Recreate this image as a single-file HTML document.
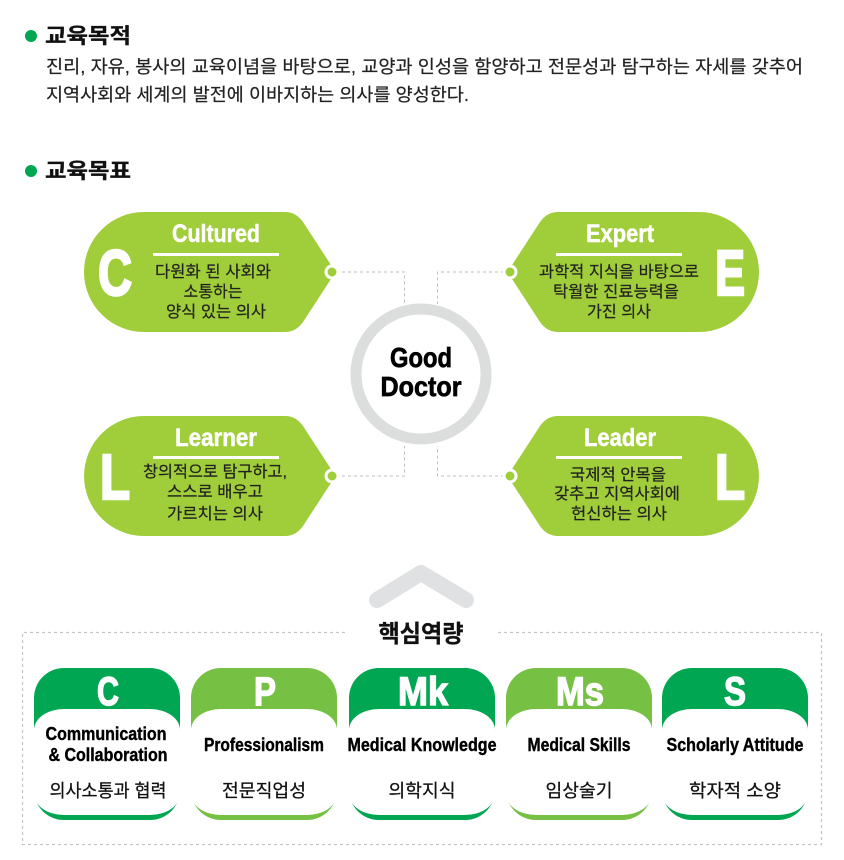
<!DOCTYPE html>
<html lang="ko"><head><meta charset="utf-8">
<style>
html,body{margin:0;padding:0;background:#fff;width:844px;height:860px;overflow:hidden}
svg{display:block}
text{font-family:"Liberation Sans","Noto Sans CJK KR",sans-serif;}
.h{font-weight:bold;font-size:21px;fill:#111;stroke:#111;stroke-width:.3px}
.b{font-size:18px;fill:#222;stroke:#222;stroke-width:.2px}
.k{font-size:16px;fill:#222;stroke:#222;stroke-width:.2px;text-anchor:middle}
.t{font-weight:bold;font-size:25px;fill:#fff;stroke:#fff;stroke-width:.5px;text-anchor:middle}
.big{font-weight:bold;font-size:64px;fill:#fff;stroke:#fff;stroke-width:2.6px;text-anchor:middle}
.cl{font-weight:bold;font-size:40px;fill:#fff;stroke:#fff;stroke-width:1.4px;text-anchor:middle}
.en{font-weight:bold;font-size:18px;fill:#000;stroke:#000;stroke-width:.4px;text-anchor:middle}
.ko{font-size:18px;fill:#111;stroke:#111;stroke-width:.25px;text-anchor:middle}
.gd{font-weight:bold;font-size:28px;fill:#000;stroke:#000;stroke-width:.7px;text-anchor:middle}
</style></head><body>
<svg width="844" height="860" viewBox="0 0 844 860" xmlns="http://www.w3.org/2000/svg">
<circle cx="31" cy="36" r="6" fill="#00a651"/>
<circle cx="31" cy="171" r="6" fill="#00a651"/>
<text class="h" x="45" y="43" textLength="86" lengthAdjust="spacingAndGlyphs">교육목적</text>
<text class="h" x="45" y="178" textLength="86" lengthAdjust="spacingAndGlyphs">교육목표</text>
<text class="b" x="46" y="73" textLength="757" lengthAdjust="spacingAndGlyphs">진리, 자유, 봉사의 교육이념을 바탕으로, 교양과 인성을 함양하고 전문성과 탐구하는 자세를 갖추어</text>
<text class="b" x="46" y="101" textLength="423" lengthAdjust="spacingAndGlyphs">지역사회와 세계의 발전에 이바지하는 의사를 양성한다.</text>

<g fill="none" stroke="#bdbdbd" stroke-width="1" stroke-dasharray="3 3">
<path d="M336 272H404.500V304"/>
<path d="M510 272H437.500V304"/>
<path d="M336 476H404.500V446"/>
<path d="M510 476H437.500V446"/>
</g>

<path d="M144 212H285Q296 212 303 222L331 265V279L303 322Q296 332 285 332H144A60 60 0 0 1 144 212Z" fill="#a0cd3a"/>
<path d="M144 416H285Q296 416 303 426L331 469V483L303 526Q296 536 285 536H144A60 60 0 0 1 144 416Z" fill="#a0cd3a"/>
<path d="M699 212H558Q547 212 540 222L512 265V279L540 322Q547 332 558 332H699A60 60 0 0 0 699 212Z" fill="#a0cd3a"/>
<path d="M699 416H558Q547 416 540 426L512 469V483L540 526Q547 536 558 536H699A60 60 0 0 0 699 416Z" fill="#a0cd3a"/>

<g fill="#a0cd3a" stroke="#fff" stroke-width="3">
<circle cx="332" cy="272" r="6"/>
<circle cx="510" cy="272" r="6"/>
<circle cx="332" cy="476" r="6"/>
<circle cx="510" cy="476" r="6"/>
</g>

<g fill="#fff">
<rect x="153" y="253" width="126" height="3"/>
<rect x="153" y="456" width="126" height="3"/>
<rect x="556" y="253" width="126" height="3"/>
<rect x="556" y="456" width="126" height="3"/>
</g>

<text class="t" x="216" y="242" textLength="88" lengthAdjust="spacingAndGlyphs">Cultured</text>
<text class="t" x="216" y="446" textLength="82" lengthAdjust="spacingAndGlyphs">Learner</text>
<text class="t" x="620" y="242" textLength="68" lengthAdjust="spacingAndGlyphs">Expert</text>
<text class="t" x="620" y="446" textLength="72" lengthAdjust="spacingAndGlyphs">Leader</text>

<text class="big" x="115" y="295" textLength="34" lengthAdjust="spacingAndGlyphs">C</text>
<text class="big" x="115" y="499" textLength="30" lengthAdjust="spacingAndGlyphs">L</text>
<text class="big" x="730" y="295" textLength="30" lengthAdjust="spacingAndGlyphs">E</text>
<text class="big" x="730" y="499" textLength="30" lengthAdjust="spacingAndGlyphs">L</text>

<text class="k" x="213" y="277" textLength="116" lengthAdjust="spacingAndGlyphs">다원화 된 사회와</text>
<text class="k" x="213" y="297">소통하는</text>
<text class="k" x="216" y="317" textLength="100" lengthAdjust="spacingAndGlyphs">양식 있는 의사</text>
<text class="k" x="215" y="477" textLength="144" lengthAdjust="spacingAndGlyphs">창의적으로 탐구하고,</text>
<text class="k" x="215" y="497" textLength="96" lengthAdjust="spacingAndGlyphs">스스로 배우고</text>
<text class="k" x="215" y="519" textLength="96" lengthAdjust="spacingAndGlyphs">가르치는 의사</text>
<text class="k" x="619" y="277" textLength="160" lengthAdjust="spacingAndGlyphs">과학적 지식을 바탕으로</text>
<text class="k" x="616" y="297" textLength="126" lengthAdjust="spacingAndGlyphs">탁월한 진료능력을</text>
<text class="k" x="619" y="317" textLength="64" lengthAdjust="spacingAndGlyphs">가진 의사</text>
<text class="k" x="618" y="480" textLength="96" lengthAdjust="spacingAndGlyphs">국제적 안목을</text>
<text class="k" x="617" y="499" textLength="126" lengthAdjust="spacingAndGlyphs">갖추고 지역사회에</text>
<text class="k" x="619" y="519" textLength="96" lengthAdjust="spacingAndGlyphs">헌신하는 의사</text>

<circle cx="421" cy="374" r="65" fill="#fff" stroke="#dcdedd" stroke-width="11"/>
<text class="gd" x="421" y="367" textLength="62" lengthAdjust="spacingAndGlyphs">Good</text>
<text class="gd" x="421" y="396" textLength="81" lengthAdjust="spacingAndGlyphs">Doctor</text>

<path d="M377 600L421 573L466 600" fill="none" stroke="#e0e1e2" stroke-width="16" stroke-linecap="round" stroke-linejoin="round"/>

<path d="M345 632.500H22.500V844.500H821.500V632.500H495" fill="none" stroke="#c4c4c4" stroke-width="1.200" stroke-dasharray="3 3"/>
<text x="421" y="642" font-weight="bold" font-size="24" fill="#111" stroke="#111" stroke-width=".3" text-anchor="middle" textLength="85" lengthAdjust="spacingAndGlyphs">핵심역량</text>

<g>
<rect x="34" y="668" width="146" height="152" rx="30" fill="#00a651"/>
<rect x="191" y="668" width="146" height="152" rx="30" fill="#76c043"/>
<rect x="349" y="668" width="146" height="152" rx="30" fill="#00a651"/>
<rect x="506" y="668" width="146" height="152" rx="30" fill="#76c043"/>
<rect x="662" y="668" width="146" height="152" rx="30" fill="#00a651"/>
</g>
<g fill="#fff">
<rect x="34" y="709" width="146" height="106" rx="30" ry="21"/>
<rect x="191" y="709" width="146" height="106" rx="30" ry="21"/>
<rect x="349" y="709" width="146" height="106" rx="30" ry="21"/>
<rect x="506" y="709" width="146" height="106" rx="30" ry="21"/>
<rect x="662" y="709" width="146" height="106" rx="30" ry="21"/>
</g>

<text class="cl" x="108" y="705" textLength="22" lengthAdjust="spacingAndGlyphs">C</text>
<text class="cl" x="265" y="705" textLength="22" lengthAdjust="spacingAndGlyphs">P</text>
<text class="cl" x="423" y="705" textLength="50" lengthAdjust="spacingAndGlyphs">Mk</text>
<text class="cl" x="580" y="705" textLength="48" lengthAdjust="spacingAndGlyphs">Ms</text>
<text class="cl" x="735" y="705" textLength="22" lengthAdjust="spacingAndGlyphs">S</text>

<text class="en" x="106" y="740" textLength="121" lengthAdjust="spacingAndGlyphs">Communication</text>
<text class="en" x="108" y="761" textLength="119" lengthAdjust="spacingAndGlyphs">&amp; Collaboration</text>
<text class="en" x="264" y="751" textLength="120" lengthAdjust="spacingAndGlyphs">Professionalism</text>
<text class="en" x="422" y="751" textLength="149" lengthAdjust="spacingAndGlyphs">Medical Knowledge</text>
<text class="en" x="579" y="751" textLength="103" lengthAdjust="spacingAndGlyphs">Medical Skills</text>
<text class="en" x="735" y="751" textLength="137" lengthAdjust="spacingAndGlyphs">Scholarly Attitude</text>

<text class="ko" x="108" y="797" textLength="117" lengthAdjust="spacingAndGlyphs">의사소통과 협력</text>
<text class="ko" x="264" y="797" textLength="84" lengthAdjust="spacingAndGlyphs">전문직업성</text>
<text class="ko" x="422" y="797" textLength="67" lengthAdjust="spacingAndGlyphs">의학지식</text>
<text class="ko" x="579" y="797" textLength="67" lengthAdjust="spacingAndGlyphs">임상술기</text>
<text class="ko" x="735" y="797" textLength="92" lengthAdjust="spacingAndGlyphs">학자적 소양</text>
</svg>
</body></html>
